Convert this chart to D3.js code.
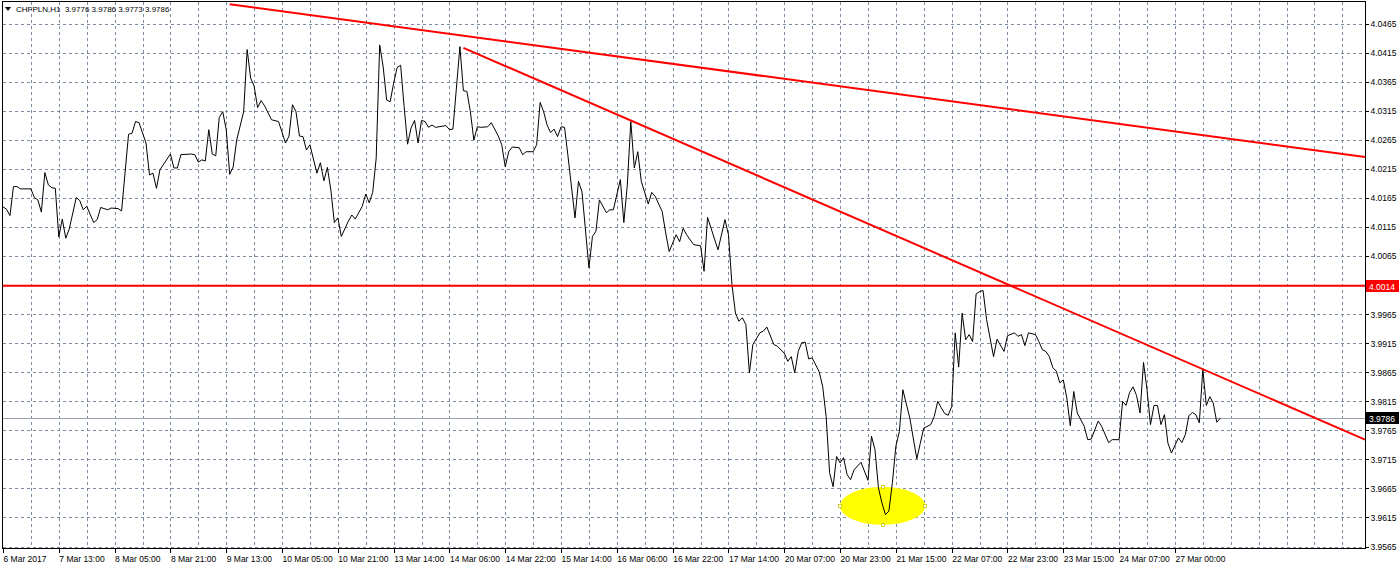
<!DOCTYPE html>
<html><head><meta charset="utf-8">
<script src="https://cdn.jsdelivr.net/npm/d3@7"></script>
<style>
body{margin:0;background:#fff;}
svg{display:block;}
text{font-family:"Liberation Sans",Arial,sans-serif;font-size:8.5px;fill:#000;}
</style>
</head><body><svg id="c" width="1400" height="568"></svg>
<script>
const barIndex = [0,1,2,3,4,5,8,9,10,11,12,13,14,15,16,17,18,19,21,22,23,24,26,27,28,30,31,33,34,36,37,38,39,41,42,43,44,45,48,49,50,51,54,55,56,57,58,59,60,61,62,63,64,65,66,67,69,70,71,72,73,74,75,77,79,81,82,83,84,85,86,87,88,90,91,92,93,94,95,96,97,99,100,101,103,104,105,106,107,108,109,110,111,112,113,114,115,116,117,118,119,120,121,122,123,124,127,128,129,131,132,133,134,135,136,137,139,140,142,143,144,145,146,148,149,150,152,153,154,155,156,157,158,159,160,161,162,164,165,166,168,169,170,171,173,174,175,177,178,179,180,181,182,183,185,186,187,189,190,191,193,194,195,196,198,200,201,202,205,207,208,209,210,211,212,213,214,215,217,218,219,221,222,224,225,226,227,228,229,230,231,232,234,235,236,237,238,239,240,241,242,243,244,246,248,249,250,251,252,253,254,255,256,257,258,260,262,263,264,266,267,268,269,270,271,272,273,274,275,276,277,278,279,280,281,282,284,285,287,288,290,291,292,293,294,296,297,298,299,300,301,302,303,304,305,306,307,308,310,311,312,314,315,317,318,320,321,322,323,324,325,326,327,328,329,330,331,332,333,334,335,337,338,339,340,341,342,343,344,345,346,347,348,349];
const closePrice = [4.0150,4.0146,4.0135,4.0185,4.0185,4.0181,4.0181,4.0166,4.0162,4.0141,4.0209,4.0188,4.0183,4.0182,4.0098,4.0129,4.0096,4.0112,4.0166,4.0161,4.0145,4.0151,4.0123,4.0128,4.0149,4.0145,4.0148,4.0147,4.0143,4.0275,4.0277,4.0297,4.0295,4.0260,4.0205,4.0208,4.0182,4.0214,4.0241,4.0217,4.0217,4.0240,4.0241,4.0240,4.0227,4.0231,4.0229,4.0283,4.0241,4.0238,4.0304,4.0314,4.0283,4.0206,4.0219,4.0265,4.0314,4.0421,4.0372,4.0358,4.0321,4.0333,4.0324,4.0300,4.0297,4.0260,4.0272,4.0326,4.0314,4.0272,4.0271,4.0248,4.0257,4.0208,4.0226,4.0195,4.0218,4.0179,4.0123,4.0131,4.0099,4.0125,4.0136,4.0129,4.0151,4.0172,4.0157,4.0175,4.0234,4.0429,4.0391,4.0334,4.0331,4.0363,4.0390,4.0394,4.0323,4.0258,4.0286,4.0299,4.0260,4.0299,4.0297,4.0287,4.0291,4.0287,4.0290,4.0283,4.0284,4.0426,4.0350,4.0349,4.0314,4.0265,4.0288,4.0287,4.0288,4.0295,4.0272,4.0257,4.0219,4.0245,4.0253,4.0252,4.0240,4.0245,4.0245,4.0257,4.0330,4.0314,4.0291,4.0278,4.0284,4.0271,4.0288,4.0287,4.0237,4.0131,4.0194,4.0176,4.0045,4.0099,4.0108,4.0162,4.0140,4.0145,4.0145,4.0197,4.0123,4.0188,4.0297,4.0217,4.0245,4.0194,4.0155,4.0175,4.0168,4.0142,4.0105,4.0073,4.0102,4.0090,4.0113,4.0102,4.0085,4.0083,4.0039,4.0132,4.0076,4.0128,4.0102,4.0016,3.9967,3.9953,3.9959,3.9947,3.9864,3.9913,3.9933,3.9936,3.9943,3.9913,3.9910,3.9898,3.9884,3.9892,3.9864,3.9901,3.9916,3.9917,3.9888,3.9890,3.9866,3.9841,3.9789,3.9692,3.9668,3.9720,3.9709,3.9718,3.9689,3.9680,3.9697,3.9710,3.9679,3.9755,3.9732,3.9666,3.9640,3.9620,3.9626,3.9675,3.9738,3.9763,3.9835,3.9786,3.9716,3.9743,3.9769,3.9775,3.9789,3.9815,3.9804,3.9794,3.9791,3.9806,3.9933,3.9874,3.9967,3.9921,3.9930,3.9918,4.0000,4.0004,4.0006,3.9956,3.9892,3.9922,3.9901,3.9928,3.9933,3.9927,3.9930,3.9911,3.9933,3.9930,3.9918,3.9904,3.9901,3.9892,3.9873,3.9867,3.9847,3.9852,3.9821,3.9773,3.9832,3.9795,3.9772,3.9749,3.9750,3.9781,3.9772,3.9744,3.9749,3.9749,3.9815,3.9808,3.9830,3.9840,3.9825,3.9795,3.9882,3.9835,3.9775,3.9808,3.9808,3.9775,3.9792,3.9743,3.9726,3.9752,3.9744,3.9758,3.9790,3.9796,3.9792,3.9778,3.9870,3.9808,3.9823,3.9812,3.9779,3.9786];
const yTickValues = [3.9565,3.9615,3.9665,3.9715,3.9765,3.9815,3.9865,3.9915,3.9965,4.0065,4.0115,4.0165,4.0215,4.0265,4.0315,4.0365,4.0415,4.0465];
const xTickBars = [0,16,32,48,64,80,96,112,128,144,160,176,192,208,224,240,256,272,288,304,320,336];
const xTickLabels = ["6 Mar 2017","7 Mar 13:00","8 Mar 05:00","8 Mar 21:00","9 Mar 13:00","10 Mar 05:00","10 Mar 21:00","13 Mar 14:00","14 Mar 06:00","14 Mar 22:00","15 Mar 14:00","16 Mar 06:00","16 Mar 22:00","17 Mar 14:00","20 Mar 07:00","20 Mar 23:00","21 Mar 15:00","22 Mar 07:00","22 Mar 23:00","23 Mar 15:00","24 Mar 07:00","27 Mar 00:00"];
const levelPrice = 4.0014;
const lastPrice = 3.9786;
const trend1 = [[65, 4.0499], [390.5, 4.0236]];
const trend2 = [[132, 4.0424], [390.5, 3.9749]];
const ellipseCenter = [252.2, 3.9635];
const ellipseRadius = [12.2, 0.00327];
const titleText = "CHFPLN,H1  3.9776 3.9786 3.9773 3.9786";

const L = 2.5, R = 1365.5, T = 1.5, B = 548.5;
const svg = d3.select("#c");
const x = d3.scaleLinear().domain([0, 390.5]).range([3, 1365]);
const y = d3.scaleLinear().domain([3.9565, 4.0465]).range([546.5, 24]);
const px = v => Math.round(v) + 0.5;

const defs = svg.append("defs");
defs.append("clipPath").attr("id", "plot").append("rect")
  .attr("x", L).attr("y", T).attr("width", R - L).attr("height", B - T);

// grid
const grid = svg.append("g").attr("stroke", "#7d8ba0").attr("stroke-width", 1)
  .attr("stroke-dasharray", "3,3").attr("shape-rendering", "crispEdges");
grid.selectAll("line.v").data(d3.range(8, 390, 8)).join("line")
  .attr("x1", d => px(x(d))).attr("x2", d => px(x(d))).attr("y1", T).attr("y2", B);
grid.selectAll("line.h").data(yTickValues).join("line")
  .attr("x1", L).attr("x2", R).attr("y1", d => px(y(d))).attr("y2", d => px(y(d)));

const plot = svg.append("g").attr("clip-path", "url(#plot)");

// current price line
plot.append("line").attr("x1", L).attr("x2", R)
  .attr("y1", px(y(lastPrice))).attr("y2", px(y(lastPrice)))
  .attr("stroke", "#98a3b3").attr("stroke-width", 1).attr("shape-rendering", "crispEdges");

// ellipse
const ecx = x(ellipseCenter[0]), ecy = y(ellipseCenter[1]);
const erx = x(ellipseCenter[0] + ellipseRadius[0]) - ecx;
const ery = ecy - y(ellipseCenter[1] + ellipseRadius[1]);
plot.append("ellipse").attr("cx", ecx).attr("cy", ecy).attr("rx", erx).attr("ry", ery)
  .attr("fill", "#ffff00");

// price line
const line = d3.line().x((d, i) => x(barIndex[i])).y((d) => y(d));
plot.append("path").datum(closePrice).attr("d", line)
  .attr("fill", "none").attr("stroke", "#000").attr("stroke-width", 1).attr("stroke-linejoin", "miter");

// ellipse handles
[[ecx - erx, ecy], [ecx + erx, ecy], [ecx, ecy - ery], [ecx, ecy + ery]].forEach(p => {
  plot.append("rect").attr("x", Math.round(p[0]) - 1.5).attr("y", Math.round(p[1]) - 1.5)
    .attr("width", 3).attr("height", 3).attr("fill", "#fff").attr("stroke", "#c8c800").attr("stroke-width", 0.8);
});

// horizontal level
plot.append("line").attr("x1", L).attr("x2", R)
  .attr("y1", y(levelPrice)).attr("y2", y(levelPrice))
  .attr("stroke", "#ff0000").attr("stroke-width", 2);

// trend lines
[trend1, trend2].forEach(t => {
  plot.append("line")
    .attr("x1", x(t[0][0])).attr("y1", y(t[0][1]))
    .attr("x2", x(t[1][0])).attr("y2", y(t[1][1]))
    .attr("stroke", "#ff0000").attr("stroke-width", 2);
});

// frame
svg.append("rect").attr("x", L).attr("y", T).attr("width", R - L).attr("height", B - T)
  .attr("fill", "none").attr("stroke", "#000").attr("stroke-width", 1).attr("shape-rendering", "crispEdges");

// right axis
const yAxis = d3.axisRight(y).tickValues(yTickValues).tickSize(3).tickPadding(2)
  .tickFormat(d3.format(".4f"));
const ya = svg.append("g").attr("transform", `translate(${R},0)`).call(yAxis);
ya.select(".domain").remove();
ya.selectAll(".tick line").attr("stroke", "#000").attr("shape-rendering", "crispEdges");
ya.selectAll(".tick text").attr("font-family", "Liberation Sans, Arial, sans-serif").attr("font-size", 8.5).attr("fill", "#000");

// bottom axis
const xAxis = d3.axisBottom(x).tickValues(xTickBars).tickSize(4).tickPadding(3)
  .tickFormat((d, i) => xTickLabels[i]);
const xa = svg.append("g").attr("transform", `translate(0,${B})`).call(xAxis);
xa.select(".domain").remove();
xa.selectAll(".tick line").attr("stroke", "#000").attr("shape-rendering", "crispEdges");
xa.selectAll(".tick text").attr("text-anchor", "start").attr("x", 0)
  .attr("font-family", "Liberation Sans, Arial, sans-serif").attr("font-size", 8).attr("fill", "#000");

// price boxes
function priceBox(val, bg) {
  const yy = Math.round(y(val));
  svg.append("rect").attr("x", 1366).attr("y", yy - 6).attr("width", 33).attr("height", 12).attr("fill", bg);
  svg.append("text").attr("x", 1369).attr("y", yy + 3.5).style("fill", "#fff")
    .text(d3.format(".4f")(val));
}
priceBox(levelPrice, "#ff0000");
priceBox(lastPrice, "#000000");

// title
svg.append("path").attr("d", "M5,7 L11,7 L8,11 Z").attr("fill", "#000");
svg.append("text").attr("x", 16).attr("y", 12).attr("font-size", 8).style("font-size", "8px")
  .attr("xml:space", "preserve").style("white-space", "pre").text(titleText);
</script>
</body></html>
